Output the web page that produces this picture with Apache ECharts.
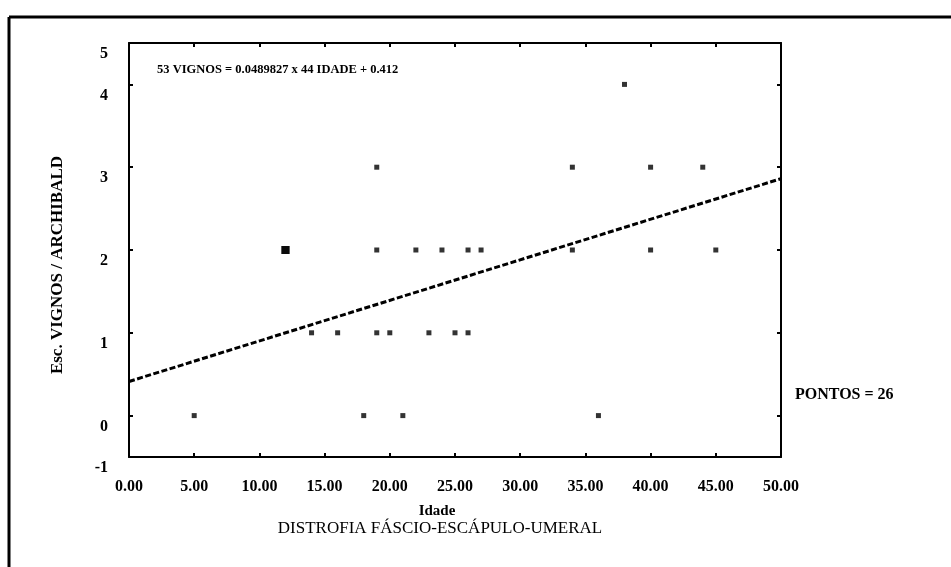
<!DOCTYPE html>
<html><head><meta charset="utf-8">
<script src="https://cdn.jsdelivr.net/npm/echarts@6/dist/echarts.min.js"></script>
<style>html,body{margin:0;padding:0;background:#fff}#c{width:951px;height:567px}</style>
</head><body><div id="c"></div>
<script>
// Data: age (Idade) and Vignos/Archibald score
const ages   = [38, 19, 34, 40, 44, 12, 12, 19, 22, 24, 26, 27, 34, 40, 45, 14, 16, 19, 20, 23, 25, 26, 5, 18, 21, 36];
const scores = [4,  3,  3,  3,  3,  2,  2,  2,  2,  2,  2,  2,  2,  2,  2,  1,  1,  1,  1,  1,  1,  1,  0, 0,  0,  0];
// Regression printed on the chart
const slope = 0.0489827;
const intercept = 0.412;
const xMin = 0, xMax = 50, xStep = 5;
const yMin = -0.5, yMax = 4.5;
const yTickValues  = [0, 1, 2, 3, 4];
const yLabelValues = [-0.5, 0, 1, 2, 3, 4, 4.5];
const yLabelTexts  = ['-1', '0', '1', '2', '3', '4', '5'];
const equationText = '53 VIGNOS = ' + slope + ' x 44 IDADE + ' + intercept;
const pointsText = 'PONTOS = 26';
const xTitle = 'Idade';
const yTitle = 'Esc. VIGNOS / ARCHIBALD';
const subTitle = 'DISTROFIA FÁSCIO-ESCÁPULO-UMERAL';

const serif = '"Liberation Serif", "DejaVu Serif", serif';
const pts = ages.map((a, i) => [a, scores[i]]);
const countAt = (v) => pts.filter(p => p[0] === v[0] && p[1] === v[1]).length;
const fitLine = [[xMin, intercept], [xMax, intercept + slope * xMax]];

const axisLine = { show: true, onZero: false, lineStyle: { color: '#000', width: 2 } };
const tick = { show: true, inside: true, length: 4, lineStyle: { color: '#000', width: 2 } };

const chart = echarts.init(document.getElementById('c'), null, { renderer: 'canvas' });
chart.setOption({
  animation: false,
  backgroundColor: '#fff',
  grid: { left: 129, right: 170, top: 43, bottom: 110, containLabel: false },
  xAxis: [{
    type: 'value', position: 'bottom', min: xMin, max: xMax, interval: xStep,
    axisLine: axisLine, axisTick: tick, splitLine: { show: false },
    axisLabel: { formatter: v => v.toFixed(2), fontFamily: serif, fontWeight: 'bold', fontSize: 16, color: '#000', margin: 22 },
    name: xTitle, nameLocation: 'middle', nameGap: 47,
    nameTextStyle: { fontFamily: serif, fontWeight: 'bold', fontSize: 15, color: '#000', padding: [0, 36, 0, 0] }
  }, {
    type: 'value', position: 'top', min: xMin, max: xMax, interval: xStep,
    axisLine: axisLine, axisTick: tick, splitLine: { show: false }, axisLabel: { show: false }
  }],
  yAxis: [{
    type: 'value', position: 'left', min: yMin, max: yMax,
    axisLine: axisLine, splitLine: { show: false },
    axisTick: Object.assign({ customValues: yTickValues }, tick),
    axisLabel: {
      customValues: yLabelValues,
      formatter: v => {
        let best = 0;
        yLabelValues.forEach((lv, i) => { if (Math.abs(lv - v) < Math.abs(yLabelValues[best] - v)) best = i; });
        return yLabelTexts[best];
      },
      fontFamily: serif, fontWeight: 'bold', fontSize: 16, color: '#000', margin: 21,
      verticalAlign: 'top', lineHeight: 22
    },
    name: yTitle, nameLocation: 'middle', nameGap: 63, nameRotate: 90,
    nameTextStyle: { fontFamily: serif, fontWeight: 'bold', fontSize: 17, color: '#000', padding: [0, 30, 0, 0] }
  }, {
    type: 'value', position: 'right', min: yMin, max: yMax,
    axisLine: axisLine, splitLine: { show: false },
    axisTick: Object.assign({ customValues: yTickValues }, tick),
    axisLabel: { show: false }
  }],
  series: [{
    type: 'line', data: fitLine, symbol: 'none', z: 2,
    lineStyle: { color: '#000', width: 3, type: [6, 2.5] }
  }, {
    type: 'scatter', data: pts, symbol: 'rect', z: 3,
    symbolSize: v => countAt(v) > 1 ? 8 : 5,
    itemStyle: { color: '#000' }
  }],
  graphic: [
    { type: 'line', shape: { x1: 9, y1: 17, x2: 951, y2: 17 }, style: { stroke: '#000', lineWidth: 3 } },
    { type: 'line', shape: { x1: 9, y1: 17, x2: 9, y2: 567 }, style: { stroke: '#000', lineWidth: 3 } },
    { type: 'text', x: 157, y: 70, style: { text: equationText, font: 'bold 12.5px ' + serif, fill: '#000', textVerticalAlign: 'middle' } },
    { type: 'text', x: 795, y: 395, style: { text: pointsText, font: 'bold 16px ' + serif, fill: '#000', textVerticalAlign: 'middle' } },
    { type: 'text', x: 440, y: 529, style: { text: subTitle, font: '17px ' + serif, fill: '#000', textAlign: 'center', textVerticalAlign: 'middle' } }
  ]
});
</script>
</body></html>
